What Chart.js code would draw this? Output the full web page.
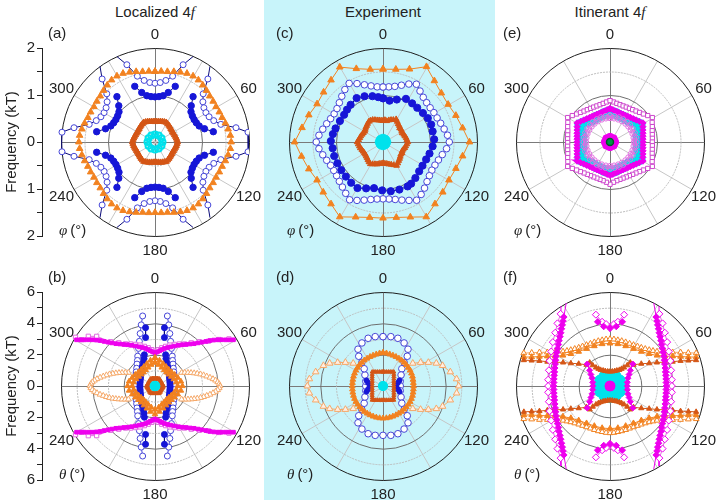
<!DOCTYPE html>
<html>
<head>
<meta charset="utf-8">
<script src="https://cdn.jsdelivr.net/npm/chart.js@4.4.1/dist/chart.umd.min.js"></script>
<style>
  body { margin:0; width:720px; height:500px; position:relative; overflow:hidden; background:#fff;
         font-family:"Liberation Sans", Arial, sans-serif; color:#222; }
  .band { position:absolute; left:264px; top:0; width:231px; height:500px; background:#c8f4fa; }
  .box { position:absolute; }
  .txt { position:absolute; font-size:15px; line-height:18px; white-space:nowrap; }
  .ttl { position:absolute; top:3px; width:200px; text-align:center; font-size:15px; line-height:18px; }
  .it { font-family:"Liberation Serif", "DejaVu Serif", serif; font-style:italic; }
</style>
</head>
<body>
<div class="band"></div>
<div class="ttl" style="left:55px">Localized 4<span class="it">f</span></div>
<div class="ttl" style="left:283px">Experiment</div>
<div class="ttl" style="left:510px">Itinerant 4<span class="it">f</span></div>
<script>
// ---- angles (deg, clockwise from top) ----
const ang5 = [0,5,10,15,20,25,30,35,40,45,50,55,60,65,70,75,80,85,90,95,100,105,110,115,
  120,125,130,135,140,145,150,155,160,165,170,175,180,185,190,195,200,205,210,215,220,225,230,235,
  240,245,250,255,260,265,270,275,280,285,290,295,300,305,310,315,320,325,330,335,340,345,350,355,360];
const ang6 = [0,6,12,18,24,30,36,42,48,54,60,66,72,78,84,90,96,102,108,114,120,126,132,138,144,150,
  156,162,168,174,180,186,192,198,204,210,216,222,228,234,240,246,252,258,264,270,276,282,288,294,
  300,306,312,318,324,330,336,342,348,354,360];
const ang10 = [0,10,20,30,40,50,60,70,80,90,100,110,120,130,140,150,160,170,180,190,200,210,220,230,
  240,250,260,270,280,290,300,310,320,330,340,350,360];
const ang30 = [0,30,60,90,120,150,180,210,240,270,300,330];
const ang45 = [0,45,90,135,180,225,270,315];

// ---- (a) localized, phi ----
const aCyanFreq = [0.16,0.16,0.16,0.16,0.16,0.16,0.16,0.16,0.16,0.16,0.16,0.16];
const aDarkFreq = [
  0.43,0.435,0.44,0.45,0.46,0.47,0.48,0.47,0.46,0.45,0.44,0.435,
  0.43,0.435,0.44,0.45,0.46,0.47,0.48,0.47,0.46,0.45,0.44,0.435,
  0.43,0.435,0.44,0.45,0.46,0.47,0.48,0.47,0.46,0.45,0.44,0.435,
  0.43,0.435,0.44,0.45,0.46,0.47,0.48,0.47,0.46,0.45,0.44,0.435,
  0.43,0.435,0.44,0.45,0.46,0.47,0.48,0.47,0.46,0.45,0.44,0.435,
  0.43,0.435,0.44,0.45,0.46,0.47,0.48,0.47,0.46,0.45,0.44,0.435, 0.43];
const aOrangeFreq = [
  1.50,1.51,1.52,1.55,1.58,1.61,1.62,1.61,1.58,1.55,1.52,1.51,
  1.50,1.51,1.52,1.55,1.58,1.61,1.62,1.61,1.58,1.55,1.52,1.51,
  1.50,1.51,1.52,1.55,1.58,1.61,1.62,1.61,1.58,1.55,1.52,1.51,
  1.50,1.51,1.52,1.55,1.58,1.61,1.62,1.61,1.58,1.55,1.52,1.51,
  1.50,1.51,1.52,1.55,1.58,1.61,1.62,1.61,1.58,1.55,1.52,1.51,
  1.50,1.51,1.52,1.55,1.58,1.61,1.62,1.61,1.58,1.55,1.52,1.51, 1.50];
const aArcAng = [-20,-15,-10,-5,0,5,10,15,20,null, 40,45,50,55,60,65,70,75,80,null,
  100,105,110,115,120,125,130,135,140,null, 160,165,170,175,180,185,190,195,200,null,
  220,225,230,235,240,245,250,255,260,null, 280,285,290,295,300,305,310,315,320];
const aFilledFreq = [1.26,1.09,1.0,0.97,0.96,0.97,1.0,1.09,1.26,null, 1.26,1.09,1.0,0.97,0.96,0.97,1.0,1.09,1.26,null,
  1.26,1.09,1.0,0.97,0.96,0.97,1.0,1.09,1.26,null, 1.26,1.09,1.0,0.97,0.96,0.97,1.0,1.09,1.26,null,
  1.26,1.09,1.0,0.97,0.96,0.97,1.0,1.09,1.26,null, 1.26,1.09,1.0,0.97,0.96,0.97,1.0,1.09,1.26];
const aOpenFreq = [1.75,1.45,1.33,1.27,1.25,1.27,1.33,1.45,1.75,null, 1.75,1.45,1.33,1.27,1.25,1.27,1.33,1.45,1.75,null,
  1.75,1.45,1.33,1.27,1.25,1.27,1.33,1.45,1.75,null, 1.75,1.45,1.33,1.27,1.25,1.27,1.33,1.45,1.75,null,
  1.75,1.45,1.33,1.27,1.25,1.27,1.33,1.45,1.75,null, 1.75,1.45,1.33,1.27,1.25,1.27,1.33,1.45,1.75];
const aEdgeAng = [84,96,264,276];
const aEdgeFreq = [1.99,1.99,1.99,1.99];
const aNavyAng = [-24,-20,null,20,24,null,36,40,null,80,84,90,96,100,null,140,144,null,156,160,null,
  200,204,null,216,220,null,260,264,270,276,280,null,320,324];
const aNavyFreq = [1.99,1.75,null,1.75,1.99,null,1.99,1.75,null,1.75,1.99,1.99,1.99,1.75,null,1.75,1.99,null,1.99,1.75,null,
  1.75,1.99,null,1.99,1.75,null,1.75,1.99,1.99,1.99,1.75,null,1.75,1.99];

// ---- (b) localized, theta ----
const bCyanFreq = [0.15,0.15,0.15,0.15,0.15,0.15,0.15,0.15,0.15,0.15,0.15,0.15];
const bDarkFreq = [0.45,0.47,0.5,0.52,0.5,0.47, 0.45,0.47,0.5,0.52,0.5,0.47, 0.45,0.47,0.5,0.52,0.5,0.47,
  0.45,0.47,0.5,0.52,0.5,0.47, 0.45,0.47,0.5,0.52,0.5,0.47, 0.45,0.47,0.5,0.52,0.5,0.47, 0.45];
const bOrangeOutFreq = [1.8,1.66,1.52,1.42,1.37,1.38,1.45,1.55,1.68,1.75,1.68,1.55,1.45,1.38,1.37,1.42,1.52,1.66,
  1.8,1.66,1.52,1.42,1.37,1.38,1.45,1.55,1.68,1.75,1.68,1.55,1.45,1.38,1.37,1.42,1.52,1.66,1.8];
const bOrangeInFreq = [1.5,1.38,1.26,1.18,1.14,1.15,1.2,1.28,1.38,1.45,1.38,1.28,1.2,1.15,1.14,1.18,1.26,1.38,
  1.5,1.38,1.26,1.18,1.14,1.15,1.2,1.28,1.38,1.45,1.38,1.28,1.2,1.15,1.14,1.18,1.26,1.38,1.5];
const bBlueFillRightAng = [9.2,11.0,null,18.8,21.8,26.3,32.6,36,40.4,45,50.2,56,61.7,68,75.3,83,90,97,104.7,112,118.3,
  124,129.8,135,139.6,144,147.4,153.7,158.2,161.2,null,169.0,170.8];
const bBlueFillLeftAng = [350.8,349.0,null,341.2,338.2,333.7,327.4,324,319.6,315,309.8,304,298.3,292,284.7,277,270,263,
  255.3,248,241.7,236,230.2,225,220.4,216,212.6,206.3,201.8,198.8,null,191.0,189.2];
const bBlueFillFreq = [3.77,3.15,null,2.11,1.88,1.67,1.48,1.39,1.31,1.24,1.17,1.11,1.06,1.02,0.98,0.97,0.96,0.97,0.98,
  1.02,1.06,1.11,1.17,1.24,1.31,1.39,1.48,1.67,1.88,2.11,null,3.15,3.77];
const bBlueOpenRightAng = [10.0,12.7,15.8,19.3,23.6,30.1,34.5,39.4,46,53.1,61,69.8,80,90,100,110.2,119,126.9,134,140.6,
  145.5,149.9,156.4,160.7,164.2,167.3,170.0];
const bBlueOpenLeftAng = [350,347.3,344.2,340.7,336.4,329.9,325.5,320.6,314,306.9,299,290.2,280,270,260,249.8,241,233.1,
  226,219.4,214.5,210.1,203.6,199.3,195.8,192.7,190];
const bBlueOpenFreq = [4.54,4.0,3.48,3.02,2.62,2.20,1.98,1.81,1.63,1.50,1.38,1.30,1.25,1.23,1.25,1.30,1.38,1.50,1.63,
  1.81,1.98,2.20,2.62,3.02,3.48,4.0,4.54];
const bMagUpperAng = [-59.5,-58.2,-56.8,-55.2,-53.6,-52.0,-50.4,-48.8,-47.0,-45.0,-42.8,-40.0,-37.0,-33.6,-30.0,-26.1,
  -21.8,-18.1,-14.0,-10.9,-7.6,-4.0,0,4.0,7.6,10.9,14.0,18.1,21.8,26.1,30.0,33.6,37.0,40.0,42.8,45.0,47.0,48.8,50.4,
  52.0,53.6,55.2,56.8,58.2,59.5];
const bMagLowerAng = [239.5,238.2,236.8,235.2,233.6,232.0,230.4,228.8,227.0,225.0,222.8,220.0,217.0,213.6,210.0,206.1,
  201.8,198.1,194.0,190.9,187.6,184.0,180,176.0,172.4,169.1,166.0,161.9,158.2,153.9,150.0,146.4,143.0,140.0,137.2,135.0,
  133.0,131.2,129.6,128.0,126.4,124.8,123.2,121.8,120.5];
const bMagFreq = [5.81,5.59,5.38,5.17,4.97,4.76,4.55,4.32,4.10,3.89,3.68,3.50,3.32,3.16,3.00,2.84,2.69,2.58,2.47,2.37,
  2.27,2.18,2.10,2.18,2.27,2.37,2.47,2.58,2.69,2.84,3.00,3.16,3.32,3.50,3.68,3.89,4.10,4.32,4.55,4.76,4.97,5.17,5.38,5.59,5.81];
const bMagOpenUpperAng = [-58.5,-57.7,-53.3,-49.6,-45,-40,-35,-30,-25,-20,-15,-10,-5,0,5,10,15,20,25,30,35,40,45,50,54,57.5];
const bMagOpenLowerAng = [238.5,237.7,233.3,229.6,225,220,215,210,205,200,195,190,185,180,175,170,165,160,155,150,145,140,135,130,126,122.5];
const bMagOpenFreq = [5.95,5.54,5.31,4.89,4.0,3.6,3.28,3.1,2.93,2.78,2.62,2.48,2.33,2.22,2.33,2.48,2.62,2.78,2.93,3.1,
  3.28,3.6,4.0,4.45,5.05,5.6];
const bLensRightAng = [63.4,65.7,68.0,69.9,71.8,73.6,75.5,77.4,79.4,81.2,83.1,84.7,86.4,88.2,90,91.8,93.6,95.3,96.9,98.8,
  100.6,102.6,104.5,106.4,108.2,110.1,112,114.3,116.6];
const bLensLeftAng = [296.6,294.3,292,290.1,288.2,286.4,284.5,282.6,280.6,278.8,276.9,275.3,273.6,271.8,270,268.2,266.4,
  264.7,263.1,261.2,259.4,257.4,255.5,253.6,251.8,249.9,248,245.7,243.4];
const bLensFreq = [1.90,2.08,2.27,2.45,2.63,2.81,3.0,3.18,3.36,3.55,3.73,3.88,4.01,4.1,4.15,4.1,4.01,3.88,3.73,3.55,3.36,
  3.18,3.0,2.81,2.63,2.45,2.27,2.08,1.90];

// ---- (c) experiment, phi ----
const cCyanFreq = [0.07,0.07,0.07,0.07,0.07,0.07,0.07,0.07];
const cDarkFreq = [
  0.45,0.47,0.455,0.48,0.5,0.52,0.56,0.53,0.5,0.49,0.46,0.47,
  0.46,0.45,0.47,0.48,0.5,0.51,0.53,0.51,0.49,0.48,0.46,0.45,
  0.47,0.46,0.48,0.5,0.52,0.55,0.58,0.54,0.51,0.49,0.47,0.46,
  0.45,0.46,0.47,0.49,0.5,0.52,0.54,0.52,0.5,0.48,0.47,0.46,
  0.46,0.47,0.48,0.5,0.51,0.53,0.55,0.52,0.5,0.49,0.47,0.46,
  0.45,0.46,0.48,0.49,0.51,0.53,0.53,0.52,0.5,0.48,0.47,0.46, 0.45];
const cBlueFillAng = [0,9,18,28,37,45,54,62,70,78,87,95,104,112,121,129,138,146,151,161,171,181,191,200,209,218,227,
  236,245,254,263,271,279,286,296,305,312,319,329,338,347,354,360];
const cBlueFillFreq = [0.93,0.89,0.95,1.04,1.03,1.03,1.05,1.08,1.09,1.08,1.09,1.06,1.02,0.99,0.98,0.99,1.03,1.07,1.08,
  1.07,1.06,1.03,1.00,1.05,1.12,1.10,1.08,1.07,1.07,1.08,1.08,1.11,1.08,1.05,1.02,1.01,1.03,1.05,1.09,1.05,1.00,0.96,0.93];
const cBlueOpenFreq = [1.17,1.18,1.21,1.27,1.35,1.42,1.34,1.28,1.25,1.24, 1.25,1.26,1.29,1.33,1.38,1.41,1.36,1.29,1.24,1.21,
  1.2,1.22,1.26,1.32,1.38,1.43,1.36,1.3,1.25,1.22, 1.21,1.22,1.25,1.3,1.36,1.42,1.35,1.29,1.25,1.22,
  1.21,1.22,1.26,1.31,1.37,1.42,1.37,1.31,1.26,1.22, 1.2,1.21,1.25,1.31,1.38,1.44,1.36,1.28,1.22,1.18, 1.17];
const cOrangeFreq = [1.55,1.57,1.65,1.85,1.7,1.62,1.6,1.65,1.72,1.84,1.72,1.65,1.62,1.66,1.72,1.84,1.7,1.63,1.62,1.63,
  1.7,1.84,1.72,1.66,1.62,1.68,1.76,1.88,1.75,1.68,1.62,1.65,1.72,1.84,1.66,1.57,1.55];

// ---- (d) experiment, theta ----
const dCyanFreq = [0.07,0.07,0.07,0.07,0.07,0.07,0.07,0.07];
const dRectAng = [0,7.3,14.3,21.0,27.1,32.6,37.5,42.6,49.0,56.9,66.5,77.7,90,102.3,113.5,123.1,131.0,137.4,142.5,147.4,
  152.9,159.0,165.7,172.7,180,187.3,194.3,201.0,207.1,212.6,217.5,222.6,229.0,236.9,246.5,257.7,270,282.3,293.5,303.1,
  311.0,317.4,322.5,327.4,332.9,339.0,345.7,352.7,360];
const dRectFreq = [.90,.907,.929,.964,1.011,1.068,1.134,1.019,.914,.824,.752,.706,.69,.706,.752,.824,.914,1.019,1.134,
  1.068,1.011,.964,.929,.907,.90,.907,.929,.964,1.011,1.068,1.134,1.019,.914,.824,.752,.706,.69,.706,.752,.824,.914,
  1.019,1.134,1.068,1.011,.964,.929,.907,.90];
const dOrangeFreq = [2.12,2.1,2.07,2.05,2.04,2.03,2.02,2.02,2.01,2.0,2.0,1.99,1.98,1.96,1.95,1.95,1.95,1.96,1.98,1.99,
  2.0,2.0,2.01,2.01,2.02,2.02,2.03,2.04,2.05,2.06,2.06,2.06,2.05,2.04,2.03,2.02,2.02,2.01,2.01,2.0,
  2.0,1.99,1.98,1.97,1.96,1.96,1.96,1.97,1.98,1.99,2.0,2.01,2.02,2.02,2.03,2.03,2.04,2.05,2.07,2.1,2.12];
const dOpenAng = [0,9.0,17.3,26.1,34.2,39.2,42.0,47.5,58.7,74.7,90,105.3,121.3,132.5,138.0,140.8,145.8,153.9,162.7,171.0,
  180,189.0,197.3,206.1,214.2,219.2,222.0,227.5,238.7,254.7,270,285.3,301.3,312.5,318.0,320.8,325.8,333.9,342.7,351.0,360];
const dOpenFreq = [3.15,3.19,3.19,3.06,2.84,2.45,2.02,1.63,1.35,1.14,1.10,1.14,1.35,1.63,2.02,2.45,2.84,3.06,3.19,3.19,
  3.15,3.19,3.19,3.06,2.84,2.45,2.02,1.63,1.35,1.14,1.10,1.14,1.35,1.63,2.02,2.45,2.84,3.06,3.19,3.19,3.15];
const dFillAng = [71.6,78.1,90,101.9,108.4,null,251.6,258.1,270,281.9,288.4];
const dFillFreq = [1.11,0.97,0.85,0.97,1.11,null,1.11,0.97,0.85,0.97,1.11];
const dLensRightAng = [52.7,58.0,62.6,66.9,71.1,78.2,84.5,90,95.5,101.8,108.9,113.1,117.4,122.0,127.3];
const dLensLeftAng = [307.3,302.0,297.4,293.1,288.9,281.8,275.5,270,264.5,258.2,251.1,246.9,242.6,238.0,232.7];
const dLensFreq = [2.39,2.83,3.26,3.70,4.02,4.39,4.72,4.83,4.72,4.39,4.02,3.70,3.26,2.83,2.39];

// ---- (e) itinerant, phi ----
const eCenterAng = [0];
const eCenterFreq = [0];
const eDiscFreq = [0.1,0.1,0.1,0.1,0.1,0.1,0.1,0.1];
const ePinkInFreq = [0.5,0.5,0.5,0.5,0.5,0.5,0.5,0.5,0.5,0.5,0.5,0.5,0.5,0.5,0.5,0.5,0.5,0.5,0.5,0.5,0.5,0.5,0.5,0.5,
  0.5,0.5,0.5,0.5,0.5,0.5,0.5,0.5,0.5,0.5,0.5,0.5,0.5];
const ePinkOutFreq = [0.57,0.57,0.57,0.57,0.57,0.57,0.57,0.57,0.57,0.57,0.57,0.57,0.57,0.57,0.57,0.57,0.57,0.57,0.57,
  0.57,0.57,0.57,0.57,0.57,0.57,0.57,0.57,0.57,0.57,0.57,0.57,0.57,0.57,0.57,0.57,0.57,0.57];
const eCyanFreq = [
  .64,.63,.62,.61,.6,.6,.6,.6,.61,.63,.66,.7,
  .74,.7,.66,.63,.61,.6,.6,.6,.61,.63,.66,.7,
  .74,.7,.66,.63,.61,.6,.6,.6,.6,.61,.62,.63,
  .64,.63,.62,.61,.6,.6,.6,.6,.61,.63,.66,.7,
  .74,.7,.66,.63,.61,.6,.6,.6,.61,.63,.66,.7,
  .74,.7,.66,.63,.61,.6,.6,.6,.6,.61,.62,.63, .64];
const eHexFreq = [
  .71,.69,.669,.66,.652,.652,.655,.665,.679,.70,.727,.765,
  .81,.77,.745,.725,.711,.703,.70,.703,.711,.725,.745,.77,
  .81,.765,.727,.70,.679,.665,.655,.652,.652,.66,.669,.69,
  .71,.69,.669,.66,.652,.652,.655,.665,.679,.70,.727,.765,
  .81,.77,.745,.725,.711,.703,.70,.703,.711,.725,.745,.77,
  .81,.765,.727,.70,.679,.665,.655,.652,.652,.66,.669,.69, .71];
const eSquareFreq = [
  .88,.855,.835,.822,.817,.82,.827,.84,.86,.89,.927,.98,
  1.04,.99,.958,.93,.914,.905,.90,.905,.914,.93,.958,.99,
  1.04,.98,.927,.89,.86,.84,.827,.82,.817,.822,.835,.86,
  .90,.86,.835,.822,.817,.82,.827,.84,.86,.89,.927,.98,
  1.04,.99,.958,.93,.914,.905,.90,.905,.914,.93,.958,.99,
  1.04,.98,.927,.89,.86,.84,.827,.82,.817,.822,.835,.855, .88];

// ---- (f) itinerant, theta ----
const fCyanAng = [0,45,90,135,180,225,270,315,0,30,60,90,120,150,180,210,240,270,300,330];
const fCyanFreq = [.35,.35,.35,.35,.35,.35,.35,.35,.75,.75,.75,.75,.75,.75,.75,.75,.75,.75,.75,.75];
const fDotFreq = [0.1,0.1,0.1,0.1,0.1,0.1,0.1,0.1];
const fOpenUpperAng = [-69.1,-67.0,-64.5,-61.7,-58.4,-53.7,-50.7,-47.4,-43.5,-39.2,-34.7,-29.8,-24.8,-19.7,-14.6,-9.7,
  -4.8,0,4.8,9.7,14.6,19.7,24.8,29.8,34.7,39.2,43.5,47.4,50.7,53.7,58.4,61.7,64.5,67.0,69.1];
const fOpenLowerAng = [249.1,247.0,244.5,241.7,238.4,233.7,230.7,227.4,223.5,219.2,214.7,209.8,204.8,199.7,194.6,189.7,
  184.8,180,175.2,170.3,165.4,160.3,155.2,150.2,145.3,140.8,136.5,132.6,129.3,126.3,121.6,118.3,115.5,113.0,110.9];
const fOpenFreq = [5.89,5.43,4.99,4.54,4.11,3.72,3.55,3.40,3.27,3.16,3.08,3.02,2.98,2.97,2.97,2.97,2.99,3.0,2.99,2.97,
  2.97,2.97,2.98,3.02,3.08,3.16,3.27,3.40,3.55,3.72,4.11,4.54,4.99,5.43,5.89];
const fFillUpperAng = [-71.4,-69.7,-67.3,-64.6,-61.5,-57.0,-50.6,-42.3,-32.2,-21.4,-10.6,0,10.6,21.4,32.2,42.3,50.6,57.0,
  61.5,64.6,67.3,69.7,71.4];
const fFillLowerAng = [251.4,249.7,247.3,244.6,241.5,237.0,230.6,222.3,212.2,201.4,190.6,180,169.4,158.6,147.8,137.7,
  129.4,123.0,118.5,115.4,112.7,110.3,108.6];
const fFillFreq = [5.80,5.33,4.88,4.43,3.98,3.58,3.23,2.97,2.81,2.74,2.73,2.72,2.73,2.74,2.81,2.97,3.23,3.58,3.98,4.43,
  4.88,5.33,5.80];
const fSideAng = [48.0,54.6,59.9,63.4,66.5,68.8,70.4,72.0,73.3,null,132.0,125.4,120.1,116.6,113.5,111.2,109.6,108.0,106.7,null,
  -48.0,-54.6,-59.9,-63.4,-66.5,-68.8,-70.4,-72.0,-73.3,null,228.0,234.6,239.9,243.4,246.5,248.8,250.4,252.0,253.3];
const fSideFreq = [2.02,2.45,2.89,3.35,3.82,4.29,4.78,5.26,5.74,null,2.02,2.45,2.89,3.35,3.82,4.29,4.78,5.26,5.74,null,
  2.02,2.45,2.89,3.35,3.82,4.29,4.78,5.26,5.74,null,2.02,2.45,2.89,3.35,3.82,4.29,4.78,5.26,5.74];
const fArcAng = [-40.9,-39.8,-37.3,-34,-30.2,-24,-17.5,-9,0,9,17.5,24,30.2,34,37.3,39.8,40.9,null,
  220.9,219.8,217.3,214,210.2,204,197.5,189,180,171,162.5,156,149.8,146,142.7,140.2,139.1];
const fArcFreq = [1.98,1.72,1.48,1.32,1.19,1.08,1.0,0.94,0.92,0.94,1.0,1.08,1.19,1.32,1.48,1.72,1.98,null,
  1.98,1.72,1.48,1.32,1.19,1.08,1.0,0.94,0.92,0.94,1.0,1.08,1.19,1.32,1.48,1.72,1.98];
const fStarAng = [46.0,52.4,59,66.5,78,90,102,113.5,121,127.6,134,null,-46.0,-52.4,-59,-66.5,-78,-90,-102,-113.5,-121,-127.6,-134];
const fStarFreq = [2.02,1.64,1.42,1.25,1.13,1.1,1.13,1.25,1.42,1.64,2.02,null,2.02,1.64,1.42,1.25,1.13,1.1,1.13,1.25,1.42,1.64,2.02];
const fMagRightAng = [33.8,35.9,38.0,40.3,42.8,45.4,48.3,51.2,54.4,57.7,61.2,64.6,68.2,72.0,75.8,79.2,82.8,86.5,90,
  93.5,97.2,100.8,104.2,108.0,111.8,115.4,118.8,122.3,125.6,128.8,131.7,134.6,137.2,139.7,142.0,144.1,146.2];
const fMagLeftAng = [-33.8,-35.9,-38.0,-40.3,-42.8,-45.4,-48.3,-51.2,-54.4,-57.7,-61.2,-64.6,-68.2,-72.0,-75.8,-79.2,-82.8,
  -86.5,-90,-93.5,-97.2,-100.8,-104.2,-108.0,-111.8,-115.4,-118.8,-122.3,-125.6,-128.8,-131.7,-134.6,-137.2,-139.7,-142.0,
  -144.1,-146.2];
const fMagFreq = [5.30,5.12,4.95,4.79,4.63,4.49,4.36,4.23,4.12,4.02,3.94,3.85,3.77,3.71,3.66,3.63,3.61,3.60,3.60,3.60,3.61,
  3.63,3.66,3.71,3.77,3.85,3.94,4.02,4.12,4.23,4.36,4.49,4.63,4.79,4.95,5.12,5.30];
const fMagTipAng = [-10.8,-6.0,0,6.0,10.8,null,190.8,186,180,174,169.2];
const fMagTipFreq = [4.17,3.82,3.68,3.82,4.17,null,4.17,3.82,3.68,3.82,4.17];
const fMagOpenRightAng = [34.4,40.0,45.8,52.5,59.6,67.4,75.6,84.2,90,95.8,104.4,112.6,120.4,127.5,134.2,140.0,145.6];
const fMagOpenLeftAng = [-34.4,-40.0,-45.8,-52.5,-59.6,-67.4,-75.6,-84.2,-90,-95.8,-104.4,-112.6,-120.4,-127.5,-134.2,-140.0,-145.6];
const fMagOpenFreq = [5.58,5.22,4.88,4.60,4.35,4.17,4.03,3.97,3.95,3.97,4.03,4.17,4.35,4.60,4.88,5.22,5.58];
const fMagOpenTipAng = [-11.2,-7.0,-3.6,3.6,7.0,11.2,null,191.2,187,183.6,176.4,173,168.8];
const fMagOpenTipFreq = [4.64,4.13,3.96,3.96,4.13,4.64,null,4.64,4.13,3.96,3.96,4.13,4.64];
const fMagLineAng = [33.8,27.8,null,34.4,31.5,null,146.2,152.2,null,145.6,148.5,null,-33.8,-27.8,null,-34.4,-31.5,null,
  -146.2,-152.2,null,-145.6,-148.5];
const fMagLineFreq = [5.30,5.99,null,5.58,5.99,null,5.30,5.99,null,5.58,5.99,null,5.30,5.99,null,5.58,5.99,null,
  5.30,5.99,null,5.58,5.99];

// ---- colours ----
const BLUE = 'rgb(22,22,215)', NAVY = 'rgb(10,10,120)', OPENBLUE = 'rgb(70,70,215)';
const ORANGE = 'rgb(242,130,32)', DARKOR = 'rgb(212,86,22)', LIGHTOR = 'rgb(245,168,105)';
const CYAN = 'rgb(0,226,236)', MAG = 'rgb(238,0,238)', PINK = 'rgb(225,110,225)', GREEN = 'rgb(0,150,70)';
const NONE = 'rgba(0,0,0,0)';

Chart.defaults.font.family = '"Liberation Sans", Arial, sans-serif';

const deg = Math.PI / 180;
function toXY(ang, freq) {
  return ang.map((a, i) => (a === null || freq[i] === null)
    ? {x: null, y: null}
    : {x: freq[i] * Math.sin(a * deg), y: freq[i] * Math.cos(a * deg)});
}
function series(ang, freq, s) {
  return {
    data: toXY(ang, freq),
    showLine: !!s.line,
    borderColor: s.line || NONE,
    borderWidth: s.lw || 1,
    pointStyle: s.shape || 'circle',
    pointRadius: s.size == null ? 3 : s.size,
    pointBackgroundColor: s.fill || NONE,
    pointBorderColor: s.edge || s.fill || NONE,
    pointBorderWidth: s.ew == null ? 1 : s.ew,
    pointHoverRadius: 0,
    spanGaps: false
  };
}

// bottom -> top
const panels = [
  { cx:155, cy:142, max:2, axis:true, step:0.5, major:1, letter:'(a)', sym:'φ',
    rings:[[0.5,0],[1,1],[1.5,0]],
    sets:[
      series(aNavyAng, aNavyFreq, {line:NAVY, size:0}),
      series(aArcAng, aOpenFreq, {line:NAVY, fill:'#fff', edge:OPENBLUE, size:3}),
      series(aEdgeAng, aEdgeFreq, {fill:'#fff', edge:OPENBLUE, size:3}),
      series(aArcAng, aFilledFreq, {line:NAVY, fill:BLUE, size:3.2}),
      series(ang5, aOrangeFreq, {shape:'triangle', fill:ORANGE, size:3.8}),
      series(ang5, aDarkFreq, {shape:'triangle', fill:DARKOR, size:3.5}),
      series(ang30, aCyanFreq, {fill:NONE, edge:CYAN, size:3, ew:2})
    ]},
  { cx:155, cy:386, max:6, axis:true, step:1, major:2, letter:'(b)', sym:'θ',
    rings:[[1,0],[2,1],[3,0],[4,1],[5,0]],
    sets:[
      series([...bLensRightAng, null, ...bLensLeftAng], [...bLensFreq, null, ...bLensFreq],
        {shape:'triangle', line:LIGHTOR, fill:'#fff', edge:LIGHTOR, size:3.3}),
      series([...bBlueOpenRightAng, null, ...bBlueOpenLeftAng], [...bBlueOpenFreq, null, ...bBlueOpenFreq],
        {line:OPENBLUE, fill:'#fff', edge:OPENBLUE, size:3}),
      series([...bBlueFillRightAng, null, ...bBlueFillLeftAng], [...bBlueFillFreq, null, ...bBlueFillFreq],
        {line:NAVY, fill:BLUE, size:3}),
      series([...bMagOpenUpperAng, null, ...bMagOpenLowerAng], [...bMagOpenFreq, null, ...bMagOpenFreq],
        {shape:'rect', line:PINK, fill:'#fff', edge:PINK, size:3}),
      series([...bMagUpperAng, null, ...bMagLowerAng], [...bMagFreq, null, ...bMagFreq],
        {shape:'rect', fill:MAG, size:2.6}),
      series(ang10, bOrangeInFreq, {shape:'triangle', fill:ORANGE, size:3.2}),
      series(ang10, bOrangeOutFreq, {shape:'triangle', fill:ORANGE, size:3.2}),
      series(ang10, bDarkFreq, {shape:'triangle', fill:DARKOR, size:2.6}),
      series(ang30, bCyanFreq, {fill:NONE, edge:CYAN, size:2.2, ew:1.5})
    ]},
  { cx:383, cy:142, max:2, axis:false, letter:'(c)', sym:'φ',
    rings:[[0.5,0],[1,1],[1.5,0]],
    sets:[
      series(ang10, cOrangeFreq, {shape:'triangle', line:ORANGE, fill:ORANGE, size:3.8}),
      series(ang6, cBlueOpenFreq, {line:NAVY, fill:'#fff', edge:OPENBLUE, size:3.3}),
      series(cBlueFillAng, cBlueFillFreq, {line:NAVY, fill:BLUE, size:3.6}),
      series(ang5, cDarkFreq, {shape:'triangle', line:DARKOR, fill:DARKOR, size:3.3}),
      series(ang45, cCyanFreq, {fill:CYAN, size:4.5})
    ]},
  { cx:383, cy:386, max:6, axis:false, letter:'(d)', sym:'θ',
    rings:[[1,0],[2,1],[3,0],[4,1],[5,0]],
    sets:[
      series([...dLensRightAng, null, ...dLensLeftAng], [...dLensFreq, null, ...dLensFreq],
        {shape:'triangle', line:LIGHTOR, fill:'rgb(255,238,225)', edge:LIGHTOR, size:3.8}),
      series(dOpenAng, dOpenFreq, {line:NAVY, fill:'#fff', edge:OPENBLUE, size:3.3}),
      series(dFillAng, dFillFreq, {fill:BLUE, size:2.5}),
      series(ang6, dOrangeFreq, {shape:'triangle', fill:ORANGE, size:3.3}),
      series(dRectAng, dRectFreq, {shape:'triangle', line:DARKOR, fill:DARKOR, size:2.3}),
      series(ang45, dCyanFreq, {fill:CYAN, size:3.5})
    ]},
  { cx:610, cy:142, max:2, axis:false, letter:'(e)', sym:'φ',
    rings:[[0.5,0],[1,1],[1.5,0]],
    sets:[
      series(ang5, eSquareFreq, {shape:'rect', line:PINK, fill:'#fff', edge:'rgb(205,70,205)', size:3}),
      series(ang5, eCyanFreq, {fill:CYAN, size:5}),
      series(ang5, eHexFreq, {shape:'rectRot', line:MAG, lw:3, fill:MAG, size:3.2}),
      series(ang10, ePinkOutFreq, {line:PINK, fill:NONE, edge:PINK, size:2.2}),
      series(ang10, ePinkInFreq, {line:PINK, fill:NONE, edge:PINK, size:2.2}),
      series(ang45, eDiscFreq, {fill:MAG, size:4}),
      series(eCenterAng, eCenterFreq, {fill:GREEN, edge:'rgb(0,90,40)', size:3.5, ew:1.5})
    ]},
  { cx:610, cy:386, max:6, axis:false, letter:'(f)', sym:'θ',
    rings:[[1,0],[2,1],[3,0],[4,1],[5,0]],
    sets:[
      series(fCyanAng, fCyanFreq, {fill:CYAN, size:5}),
      series([...fOpenUpperAng, null, ...fOpenLowerAng], [...fOpenFreq, null, ...fOpenFreq],
        {shape:'triangle', line:LIGHTOR, fill:'#fff', edge:ORANGE, size:3.3}),
      series([...fFillUpperAng, null, ...fFillLowerAng], [...fFillFreq, null, ...fFillFreq],
        {shape:'triangle', line:ORANGE, fill:ORANGE, size:3.3}),
      series(fSideAng, fSideFreq, {shape:'triangle', line:DARKOR, fill:DARKOR, size:3}),
      series(fMagLineAng, fMagLineFreq, {line:MAG, size:0}),
      series([...fMagOpenRightAng, null, ...fMagOpenLeftAng, null, ...fMagOpenTipAng],
        [...fMagOpenFreq, null, ...fMagOpenFreq, null, ...fMagOpenTipFreq],
        {shape:'rectRot', line:PINK, fill:'#fff', edge:MAG, size:3.5}),
      series([...fMagRightAng, null, ...fMagLeftAng, null, ...fMagTipAng],
        [...fMagFreq, null, ...fMagFreq, null, ...fMagTipFreq],
        {shape:'rectRot', line:MAG, fill:MAG, size:3.3}),
      series(fArcAng, fArcFreq, {shape:'triangle', line:DARKOR, fill:DARKOR, size:3}),
      series(fStarAng, fStarFreq, {shape:'rectRot', line:MAG, fill:MAG, size:3}),
      series(ang45, fDotFreq, {fill:MAG, size:3.5})
    ]}
];

const polarGrid = {
  id: 'polarGrid',
  beforeDatasetsDraw(chart, args, o) {
    const {ctx} = chart, xs = chart.scales.x, ys = chart.scales.y;
    const ox = xs.getPixelForValue(0), oy = ys.getPixelForValue(0);
    const R = xs.getPixelForValue(o.max) - ox;
    ctx.save();
    ctx.translate(0.5, 0.5);
    ctx.lineWidth = 1;
    for (let a = 0; a < 180; a += 30) {
      const s = Math.sin(a * deg), c = Math.cos(a * deg);
      ctx.strokeStyle = a % 90 === 0 ? '#7a7a7a' : '#c6c6c6';
      ctx.beginPath();
      ctx.moveTo(ox - R * s, oy + R * c);
      ctx.lineTo(ox + R * s, oy - R * c);
      ctx.stroke();
    }
    o.rings.forEach(([v, dark]) => {
      const r = xs.getPixelForValue(v) - ox;
      ctx.strokeStyle = dark ? '#6e6e6e' : '#bcbcbc';
      ctx.setLineDash(dark ? [] : [2, 1]);
      ctx.beginPath();
      ctx.arc(ox, oy, r, 0, 2 * Math.PI);
      ctx.stroke();
    });
    ctx.setLineDash([]);
    ctx.strokeStyle = '#1e1e1e';
    ctx.beginPath();
    ctx.arc(ox, oy, R, 0, 2 * Math.PI);
    ctx.stroke();
    ctx.restore();
  },
  afterDraw(chart, args, o) {
    const {ctx} = chart, xs = chart.scales.x, ys = chart.scales.y;
    const ox = xs.getPixelForValue(0), oy = ys.getPixelForValue(0);
    const R = xs.getPixelForValue(o.max) - ox + 14;
    ctx.save();
    ctx.font = '15px "Liberation Sans", Arial, sans-serif';
    ctx.fillStyle = '#222';
    ctx.textAlign = 'center';
    ctx.textBaseline = 'middle';
    [0, 60, 120, 180, 240, 300].forEach(a => {
      ctx.fillText(String(a), ox + R * Math.sin(a * deg), oy - R * Math.cos(a * deg) + 1);
    });
    ctx.restore();
  }
};

function addText(html, left, top) {
  const d = document.createElement('div');
  d.className = 'txt';
  d.style.left = left + 'px';
  d.style.top = top + 'px';
  d.innerHTML = html;
  document.body.appendChild(d);
}

panels.forEach(p => {
  const R = 94;
  const left = p.axis ? 0 : p.cx - R - 22;
  const w = p.axis ? p.cx + R + 22 : 2 * R + 44;
  const top = p.cy - R - 30, h = 2 * R + 60;
  const box = document.createElement('div');
  box.className = 'box';
  box.style.left = left + 'px';
  box.style.top = top + 'px';
  const cv = document.createElement('canvas');
  cv.width = w; cv.height = h;
  cv.style.width = w + 'px'; cv.style.height = h + 'px';
  box.appendChild(cv);
  document.body.appendChild(box);

  const xmin = p.axis ? -(p.cx - 42) * p.max / R : -p.max;
  const yAxis = p.axis ? {
    min: -p.max, max: p.max, position: 'left',
    afterFit: s => { s.width = 42; },
    border: {display: true, color: '#222', width: 1},
    grid: {drawOnChartArea: false, drawTicks: true, tickLength: 5, color: '#222'},
    ticks: {stepSize: p.step, autoSkip: false, maxRotation: 0, padding: 2, color: '#222', font: {size: 15},
      callback: v => (Math.abs(Math.abs(v) % p.major) < 1e-9 ? String(Math.abs(v)) : '')},
    title: {display: true, text: 'Frequency (kT)', color: '#222', font: {size: 15}, padding: {top: 3, bottom: 0}}
  } : {min: -p.max, max: p.max, display: false};

  new Chart(cv, {
    type: 'scatter',
    data: {datasets: p.sets.slice().reverse()},
    options: {
      responsive: false, animation: false, devicePixelRatio: 1, events: [],
      layout: {padding: {left: p.axis ? 0 : 22, right: 22, top: 30, bottom: 30}},
      plugins: {legend: {display: false}, tooltip: {enabled: false}, polarGrid: {max: p.max, rings: p.rings}},
      scales: {
        x: {type: 'linear', min: xmin, max: p.max, display: false},
        y: Object.assign({type: 'linear'}, yAxis)
      }
    },
    plugins: [polarGrid]
  });

  addText(p.letter, p.cx - 107, p.cy - 118);
  addText('<span class="it">' + p.sym + '</span>&thinsp;(°)', p.cx - 96, p.cy + 79);
});
</script>
</body>
</html>
